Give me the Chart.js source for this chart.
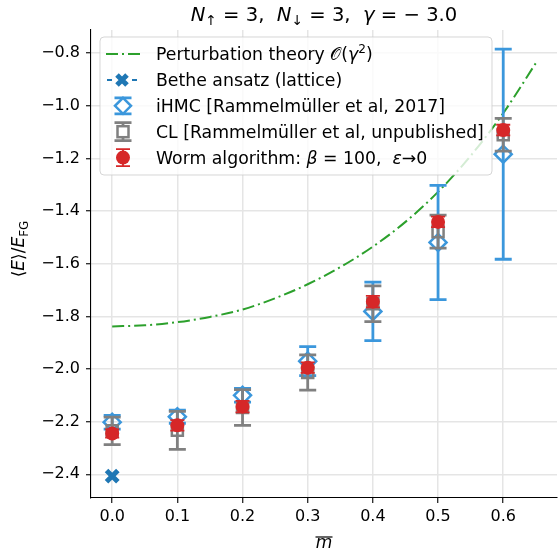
<!DOCTYPE html>
<html>
<head>
<meta charset="utf-8">
<script src="https://cdn.jsdelivr.net/npm/chart.js@4.4.1/dist/chart.umd.min.js"></script>
<style>
  html, body { margin: 0; padding: 0; overflow: hidden; background: #fff; }
  #wrap { position: relative; width: 570px; height: 550px; }
</style>
</head>
<body>
<div id="wrap"><canvas id="c" width="570" height="550"></canvas></div>
<script>
// ---- data ----
const mValues   = [0.0, 0.1, 0.2, 0.3, 0.4, 0.5, 0.6];

const ihmcE     = [-2.202, -2.181, -2.100, -1.970, -1.781, -1.519, -1.184];
const ihmcErr   = [0.026, 0.025, 0.026, 0.055, 0.111, 0.217, 0.399];

const clE       = [-2.235, -2.233, -2.146, -2.013, -1.752, -1.478, -1.110];
const clErr     = [0.052, 0.072, 0.068, 0.067, 0.068, 0.063, 0.062];

const wormE     = [-2.245, -2.214, -2.143, -1.995, -1.744, -1.441, -1.092];
const wormErr   = [0.016, 0.020, 0.022, 0.020, 0.022, 0.020, 0.020];

const betheM    = [0.0];
const betheE    = [-2.407];

const ptM       = [0.0, 0.05, 0.1, 0.15, 0.2, 0.25, 0.3, 0.35, 0.4, 0.45, 0.5, 0.55, 0.6, 0.65];
const ptE       = [-1.838, -1.834, -1.822, -1.802, -1.774, -1.731, -1.678, -1.613, -1.535, -1.441, -1.327, -1.190, -1.028, -0.838];

const xTickVals   = [0.0, 0.1, 0.2, 0.3, 0.4, 0.5, 0.6];
const xTickLabels = ['0.0', '0.1', '0.2', '0.3', '0.4', '0.5', '0.6'];
const yTickVals   = [-2.4, -2.2, -2.0, -1.8, -1.6, -1.4, -1.2, -1.0, -0.8];
const yTickLabels = ['\u22122.4', '\u22122.2', '\u22122.0', '\u22121.8', '\u22121.6', '\u22121.4', '\u22121.2', '\u22121.0', '\u22120.8'];

// ---- styling ----
const FONT = '"DejaVu Sans", "Liberation Sans", sans-serif';
const C_GREEN = '#2ca02c';
const C_BETHE = '#1f77b4';
const C_IHMC  = '#3b97dc';
const C_CL    = '#808080';
const C_WORM  = '#d62728';

const pairs = (xs, ys) => xs.map((x, i) => ({ x: x, y: ys[i] }));

// mixed-style text (italic symbols, sub/superscripts)
function fontOf(run, size) {
  const s = size * (run.scale || 1);
  return (run.it ? 'italic ' : '') + s + 'px ' + FONT;
}
function richWidth(ctx, runs, size) {
  let w = 0;
  runs.forEach(r => { ctx.font = fontOf(r, size); w += ctx.measureText(r.t).width; });
  return w;
}
function drawRich(ctx, runs, x, y, size, align) {
  const w = richWidth(ctx, runs, size);
  let cx = align === 'center' ? x - w / 2 : x;
  ctx.textBaseline = 'alphabetic';
  ctx.textAlign = 'left';
  runs.forEach(r => {
    ctx.font = fontOf(r, size);
    ctx.fillText(r.t, cx, y + (r.dy || 0) * size);
    cx += ctx.measureText(r.t).width;
  });
}

// vertical error bars, drawn just before each dataset's markers
const errorBarPlugin = {
  id: 'errorBars',
  beforeDatasetDraw(chart, args) {
    const ds = chart.data.datasets[args.index];
    if (!ds.errors) return;
    const { ctx, scales: { x, y } } = chart;
    ctx.save();
    ctx.strokeStyle = ds.errColor;
    ctx.lineWidth = ds.errWidth;
    ctx.lineCap = 'butt';
    ds.data.forEach((p, i) => {
      const e = ds.errors[i];
      const px = x.getPixelForValue(p.x);
      const y1 = y.getPixelForValue(p.y + e);
      const y2 = y.getPixelForValue(p.y - e);
      ctx.beginPath();
      ctx.moveTo(px, y1); ctx.lineTo(px, y2);
      ctx.moveTo(px - ds.capHalf, y1); ctx.lineTo(px + ds.capHalf, y1);
      ctx.moveTo(px - ds.capHalf, y2); ctx.lineTo(px + ds.capHalf, y2);
      ctx.stroke();
    });
    ctx.restore();
  }
};

// title, axis titles and the legend box
const decorPlugin = {
  id: 'decor',
  afterDraw(chart) {
    const ctx = chart.ctx;
    const area = chart.chartArea;
    ctx.save();
    ctx.fillStyle = '#000';

    // title
    drawRich(ctx, [
      { t: 'N', it: 1 }, { t: '\u2191', scale: 0.7, dy: 0.18 }, { t: ' = 3,  ' },
      { t: 'N', it: 1 }, { t: '\u2193', scale: 0.7, dy: 0.18 }, { t: ' = 3,  ' },
      { t: '\u03b3', it: 1 }, { t: ' = \u2212 3.0' }
    ], (area.left + area.right) / 2, 21, 19.6, 'center');

    // x axis title: m with an overline
    const xc = (area.left + area.right) / 2;
    ctx.font = 'italic 17px ' + FONT;
    ctx.textAlign = 'center';
    ctx.textBaseline = 'alphabetic';
    ctx.fillText('m', xc, 548);
    ctx.strokeStyle = '#000';
    ctx.lineWidth = 1.2;
    ctx.beginPath();
    ctx.moveTo(xc - 8.5, 537); ctx.lineTo(xc + 8.5, 537);
    ctx.stroke();

    // y axis title
    ctx.save();
    ctx.translate(24, 249);
    ctx.rotate(-Math.PI / 2);
    drawRich(ctx, [
      { t: '\u27e8' }, { t: 'E', it: 1 }, { t: '\u27e9/' }, { t: 'E', it: 1 },
      { t: 'FG', scale: 0.7, dy: 0.22 }
    ], 0, 0, 17, 'center');
    ctx.restore();

    // legend
    const L = { x: 100, y: 37, w: 392, h: 138, r: 4 };
    ctx.beginPath();
    ctx.roundRect(L.x, L.y, L.w, L.h, L.r);
    ctx.fillStyle = 'rgba(255,255,255,0.8)';
    ctx.fill();
    ctx.strokeStyle = 'rgba(204,204,204,0.8)';
    ctx.lineWidth = 1;
    ctx.stroke();

    const hx = 122, rowY = i => 54 + i * 25.9, tx = 156, fs = 17.3;

    // perturbation theory line
    ctx.strokeStyle = C_GREEN; ctx.lineWidth = 2; ctx.setLineDash([12, 4, 2, 4]);
    ctx.beginPath(); ctx.moveTo(hx - 16, rowY(0)); ctx.lineTo(hx + 18, rowY(0)); ctx.stroke();
    ctx.setLineDash([]);

    // bethe ansatz: dashed with X
    ctx.strokeStyle = C_BETHE; ctx.lineWidth = 2;
    ctx.beginPath();
    ctx.moveTo(hx - 15, rowY(1)); ctx.lineTo(hx - 10, rowY(1));
    ctx.moveTo(hx + 10, rowY(1)); ctx.lineTo(hx + 15, rowY(1));
    ctx.stroke();
    ctx.lineWidth = 5;
    ctx.beginPath();
    ctx.moveTo(hx - 5, rowY(1) - 5); ctx.lineTo(hx + 5, rowY(1) + 5);
    ctx.moveTo(hx - 5, rowY(1) + 5); ctx.lineTo(hx + 5, rowY(1) - 5);
    ctx.stroke();

    // errorbar handles
    const ebHandle = (row, color, lw, half, capHalf, marker) => {
      const cy = rowY(row);
      ctx.strokeStyle = color; ctx.lineWidth = lw;
      ctx.beginPath();
      ctx.moveTo(hx + 1, cy - half); ctx.lineTo(hx + 1, cy + half);
      ctx.moveTo(hx + 1 - capHalf, cy - half); ctx.lineTo(hx + 1 + capHalf, cy - half);
      ctx.moveTo(hx + 1 - capHalf, cy + half); ctx.lineTo(hx + 1 + capHalf, cy + half);
      ctx.stroke();
      marker(hx + 1, cy);
    };
    ebHandle(2, C_IHMC, 2.8, 8, 8.5, (x, y) => {
      ctx.strokeStyle = C_IHMC; ctx.lineWidth = 2.5;
      ctx.beginPath();
      ctx.moveTo(x, y - 8); ctx.lineTo(x + 8, y); ctx.lineTo(x, y + 8); ctx.lineTo(x - 8, y); ctx.closePath();
      ctx.fillStyle = '#fff'; ctx.fill(); ctx.stroke();
    });
    ebHandle(3, C_CL, 2.8, 9, 8.5, (x, y) => {
      ctx.strokeStyle = C_CL; ctx.lineWidth = 2.5;
      ctx.fillStyle = '#fff';
      ctx.fillRect(x - 5.5, y - 5.5, 11, 11);
      ctx.strokeRect(x - 5.5, y - 5.5, 11, 11);
    });
    ebHandle(4, C_WORM, 1.8, 8.5, 7, (x, y) => {
      ctx.fillStyle = C_WORM;
      ctx.beginPath(); ctx.arc(x, y, 7, 0, Math.PI * 2); ctx.fill();
    });

    ctx.fillStyle = '#000';
    const base = 6;
    drawRich(ctx, [
      { t: 'Perturbation theory ' }, { t: '\ud835\udcaa' }, { t: '(' }, { t: '\u03b3', it: 1 },
      { t: '2', scale: 0.7, dy: -0.38 }, { t: ')' }
    ], tx, rowY(0) + base, fs, 'left');
    drawRich(ctx, [{ t: 'Bethe ansatz (lattice)' }], tx, rowY(1) + base, fs, 'left');
    drawRich(ctx, [{ t: 'iHMC [Rammelm\u00fcller et al, 2017]' }], tx, rowY(2) + base, fs, 'left');
    drawRich(ctx, [{ t: 'CL [Rammelm\u00fcller et al, unpublished]' }], tx, rowY(3) + base, fs, 'left');
    drawRich(ctx, [
      { t: 'Worm algorithm: ' }, { t: '\u03b2', it: 1 }, { t: ' = 100,  ' },
      { t: '\u03b5', it: 1 }, { t: '\u21920' }
    ], tx, rowY(4) + base, fs, 'left');

    ctx.restore();
  }
};

new Chart(document.getElementById('c'), {
  type: 'scatter',
  data: {
    datasets: [
      {
        label: 'Perturbation theory',
        type: 'line',
        data: pairs(ptM, ptE),
        borderColor: C_GREEN,
        borderWidth: 2,
        borderDash: [12, 4, 2, 4],
        pointRadius: 0,
        fill: false,
        cubicInterpolationMode: 'monotone',
        order: 5
      },
      {
        label: 'Bethe ansatz (lattice)',
        data: pairs(betheM, betheE),
        pointStyle: 'crossRot',
        pointRadius: 8,
        borderWidth: 5,
        borderColor: C_BETHE,
        backgroundColor: C_BETHE,
        order: 4
      },
      {
        label: 'iHMC',
        data: pairs(mValues, ihmcE),
        errors: ihmcErr, errColor: C_IHMC, errWidth: 2.8, capHalf: 8.5,
        pointStyle: 'rectRot',
        pointRadius: 8.5,
        borderWidth: 2.5,
        borderColor: C_IHMC,
        backgroundColor: 'rgba(0,0,0,0)',
        order: 3
      },
      {
        label: 'CL',
        data: pairs(mValues, clE),
        errors: clErr, errColor: C_CL, errWidth: 2.8, capHalf: 8.5,
        pointStyle: 'rect',
        pointRadius: 7.8,
        borderWidth: 2.5,
        borderColor: C_CL,
        backgroundColor: 'rgba(0,0,0,0)',
        order: 2
      },
      {
        label: 'Worm algorithm',
        data: pairs(mValues, wormE),
        errors: wormErr, errColor: C_WORM, errWidth: 1.8, capHalf: 7,
        pointStyle: 'circle',
        pointRadius: 7,
        borderWidth: 0,
        backgroundColor: C_WORM,
        order: 1
      }
    ]
  },
  options: {
    responsive: false,
    animation: false,
    devicePixelRatio: 1,
    layout: { padding: { left: 0, top: 30, right: 10, bottom: 0 } },
    plugins: { legend: { display: false }, tooltip: { enabled: false }, title: { display: false } },
    elements: { point: { hoverRadius: 0 } },
    scales: {
      x: {
        type: 'linear',
        min: -0.0325, max: 0.6825,
        afterBuildTicks: s => { s.ticks = xTickVals.map(v => ({ value: v })); },
        afterFit: s => { s.height = 52; },
        ticks: {
          callback: (v, i) => xTickLabels[i],
          font: { family: FONT, size: 16 }, color: '#000',
          padding: 4, maxRotation: 0, autoSkip: false
        },
        grid: { color: '#e5e5e5', lineWidth: 1.5, tickColor: '#000', tickLength: 5, tickWidth: 1.1 },
        border: { display: true, color: '#000', width: 1.1 }
      },
      y: {
        type: 'linear',
        min: -2.49, max: -0.712,
        afterBuildTicks: s => { s.ticks = yTickVals.map(v => ({ value: v })); },
        afterFit: s => { s.width = 91; },
        ticks: {
          callback: (v, i) => yTickLabels[i],
          font: { family: FONT, size: 16 }, color: '#000',
          padding: 6, autoSkip: false
        },
        grid: { color: '#e5e5e5', lineWidth: 1.5, tickColor: '#000', tickLength: 5, tickWidth: 1.1 },
        border: { display: true, color: '#000', width: 1.1 }
      }
    }
  },
  plugins: [errorBarPlugin, decorPlugin]
});
</script>
</body>
</html>
